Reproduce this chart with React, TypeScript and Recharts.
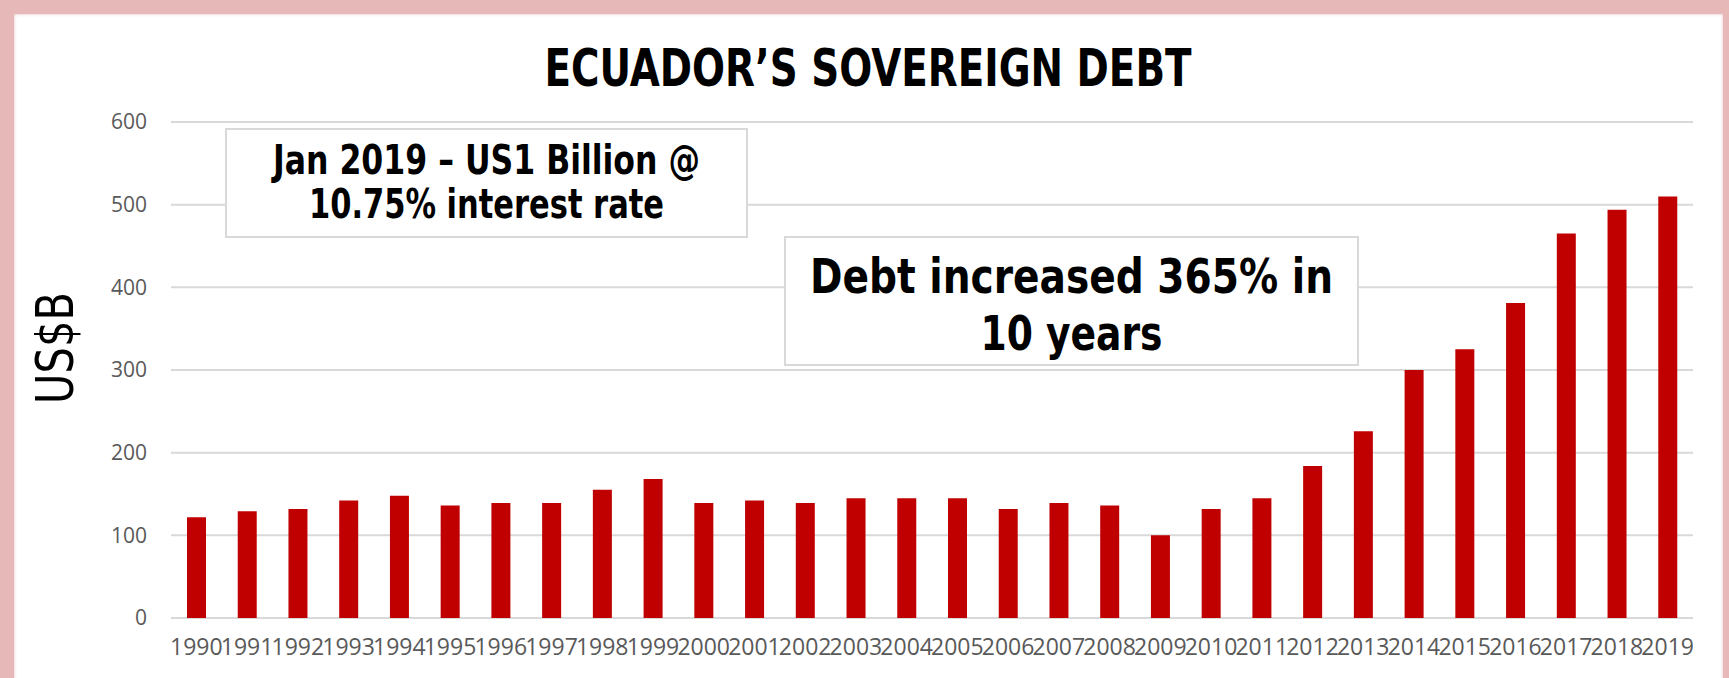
import { BarChart, Bar, XAxis, YAxis, CartesianGrid } from "recharts";

const YEARS = [
  "1990", "1991", "1992", "1993", "1994", "1995", "1996", "1997", "1998", "1999",
  "2000", "2001", "2002", "2003", "2004", "2005", "2006", "2007", "2008", "2009",
  "2010", "2011", "2012", "2013", "2014", "2015", "2016", "2017", "2018", "2019",
];
const DEBT = [
  122, 129, 132, 142, 148, 136, 139, 139, 155, 168,
  139, 142, 139, 145, 145, 145, 132, 139, 136, 100,
  132, 145, 184, 226, 300, 325, 381, 465, 494, 510,
];
const Y_TICKS = [0, 100, 200, 300, 400, 500, 600];

const TITLE = "ECUADOR’S SOVEREIGN DEBT";
const Y_LABEL = "US$B";
const NOTE_BOND = ["Jan 2019 – US1 Billion @", "10.75% interest rate"];
const NOTE_GROWTH = ["Debt increased 365% in", "10 years"];

const W = 1729;
const H = 678;
const NARROW = "'Liberation Sans Narrow', 'DejaVu Sans Condensed', 'Liberation Sans', sans-serif";
const TICK_FONT = "'Open Sans', 'Liberation Sans', sans-serif";
const GRID = "#D9D9D9";
const TICK = "#595959";
const RED = "#C00000";

const data = YEARS.map((year, i) => ({ year, debt: DEBT[i] }));

// annotation box with two centred lines, widths pinned with textLength
function NoteBox(props: {
  x: number; y: number; w: number; h: number;
  lines: string[]; baselines: number[]; widths: number[]; size: number;
}) {
  const { x, y, w, h, lines, baselines, widths, size } = props;
  const cx = x + w / 2;
  return (
    <g>
      <rect x={x} y={y} width={w} height={h} fill="#fff" stroke={GRID} strokeWidth={2} />
      {lines.map((t, i) => (
        <text
          key={i}
          x={cx}
          y={baselines[i]}
          textAnchor="middle"
          fontFamily={NARROW}
          fontWeight="bold"
          fontSize={size}
          fill="#000"
          textLength={widths[i]}
          lengthAdjust="spacingAndGlyphs"
        >
          {t}
        </text>
      ))}
    </g>
  );
}

export default function App() {
  return (
    <div style={{ position: "absolute", left: 0, top: 0, width: W, height: H, overflow: "hidden", background: "#fff" }}>
      <BarChart
        width={W}
        height={H}
        data={data}
        margin={{ top: 122, right: 36, bottom: 0, left: 0 }}
      >
        <CartesianGrid vertical={false} stroke={GRID} strokeWidth={2} />
        <XAxis
          dataKey="year"
          height={60}
          axisLine={false}
          tickLine={false}
          tickSize={0}
          tickMargin={21}
          interval={0}
          tick={{ fill: TICK, fontSize: 23, fontFamily: TICK_FONT }}
        />
        <YAxis
          width={171}
          domain={[0, 600]}
          ticks={Y_TICKS}
          axisLine={false}
          tickLine={false}
          tickSize={0}
          tickMargin={24}
          tick={{ fill: TICK, fontSize: 21, fontFamily: TICK_FONT }}
        />
        <Bar dataKey="debt" fill={RED} barSize={19} isAnimationActive={false} />
      </BarChart>

      <svg width={W} height={H} style={{ position: "absolute", left: 0, top: 0, pointerEvents: "none" }}>
        <text
          x={868}
          y={86}
          textAnchor="middle"
          fontFamily={NARROW}
          fontWeight="bold"
          fontSize={52}
          textLength={647}
          lengthAdjust="spacingAndGlyphs"
        >
          {TITLE}
        </text>
        <text
          x={0}
          y={0}
          transform="translate(73 348) rotate(-90)"
          textAnchor="middle"
          fontFamily={NARROW}
          fontSize={51}
          textLength={112}
          lengthAdjust="spacingAndGlyphs"
        >
          {Y_LABEL}
        </text>
        <NoteBox x={226} y={129} w={521} h={108} lines={NOTE_BOND} baselines={[174, 218]} widths={[427, 355]} size={40} />
        <NoteBox x={785} y={237} w={573} h={128} lines={NOTE_GROWTH} baselines={[293, 350]} widths={[523, 182]} size={48} />
      </svg>

      {/* pink slide frame, cut off at the bottom */}
      <div
        style={{
          position: "absolute",
          left: 0,
          top: 0,
          width: 1737,
          height: 720,
          boxSizing: "border-box",
          border: "14px solid #E6B9B8",
          boxShadow: "inset 0 0 3px rgba(200,120,120,0.5)",
          pointerEvents: "none",
        }}
      />
    </div>
  );
}
